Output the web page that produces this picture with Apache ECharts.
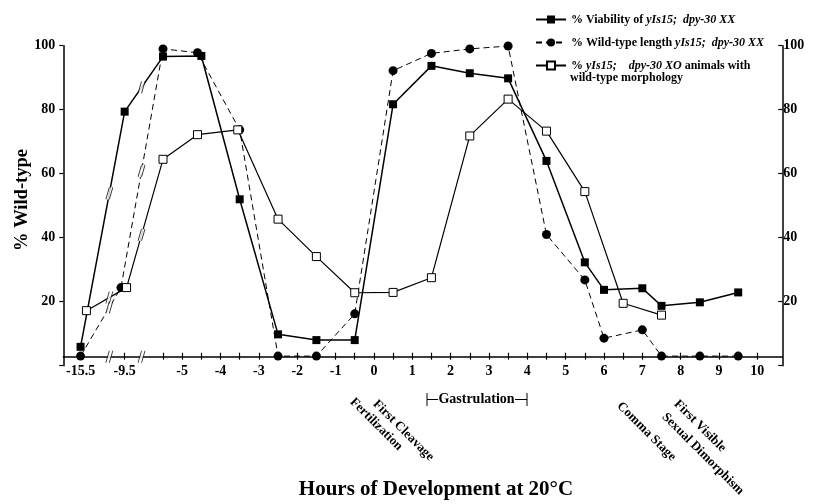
<!DOCTYPE html>
<html>
<head>
<meta charset="utf-8">
<script src="https://cdn.jsdelivr.net/npm/echarts@6/dist/echarts.min.js"></script>
<style>
    html, body { margin: 0; padding: 0; background: #fff; }
    #chart { width: 818px; height: 504px; }
</style>
</head>
<body>
<div id="chart"></div>
<script>
let hoursViability = [-15.5, -9.5, -5.5, -4.5, -3.5, -2.5, -1.5, -0.5, 0.5, 1.5, 2.5, 3.5, 4.5, 5.5, 6, 7, 7.5, 8.5, 9.5]
let viability = [5.9, 79.4, 96.6, 96.8, 52, 9.8, 8, 8, 81.7, 93.7, 91.4, 89.8, 64, 32.3, 23.7, 24.2, 18.7, 19.8, 22.9]

let hoursLength = [-15.5, -10, -5.5, -4.6, -3.5, -2.5, -1.5, -0.5, 0.5, 1.5, 2.5, 3.5, 4.5, 5.5, 6, 7, 7.5, 8.5, 9.5]
let wildLength = [3, 24.4, 99, 97.8, 73.7, 3, 3, 16.2, 92.2, 97.6, 99, 99.9, 41, 26.8, 8.6, 11.2, 3, 3, 3]

let hoursXO = [-14.7, -9.3, -5.5, -4.6, -3.55, -2.5, -1.5, -0.5, 0.5, 1.5, 2.5, 3.5, 4.5, 5.5, 6.5, 7.5]
let morphologyXO = [17.2, 24.4, 64.5, 72.2, 73.7, 45.8, 34.1, 22.8, 22.9, 27.5, 71.8, 83.3, 73.3, 54.4, 19.5, 15.8]

let labelHours = [-15.5, -9.5, -5, -4, -3, -2, -1, 0, 1, 2, 3, 4, 5, 6, 7, 8, 9, 10]
let tickHours = [-9.5, -5.5, -5, -4.5, -4, -3.5, -3, -2.5, -2, -1.5, -1, -0.5, 0, 0.5, 1, 1.5, 2, 2.5, 3, 3.5,
    4, 4.5, 5, 5.5, 6, 6.5, 7, 7.5, 8, 8.5, 9, 9.5, 10]

let seriesNames = ['% Viability of yIs15;  dpy-30 XX', '% Wild-type length yIs15;  dpy-30 XX', '% yIs15;   dpy-30 XO animals with wild-type morphology']
let legendText = {}
legendText[seriesNames[0]] = '% Viability of {i|yIs15;  dpy-30 XX}'
legendText[seriesNames[1]] = '% Wild-type length {i|yIs15;  dpy-30 XX}'
legendText[seriesNames[2]] = '% {i|yIs15;    dpy-30 XO} animals with'

const FONT = 'Liberation Serif'
const AXIS_LIFT = 9          // x axis line sits a few px above y = 0
const PX_PER_UNIT = 3.2
let axisBreaks = [-6.9, -6.06]

// the time axis is broken twice: squeeze everything before -5.5 h
function toAxis(h) {
    if (h >= -5.5) return h
    if (h >= -9.5) return -6.5 + (h + 9.5) / 4
    return -7.65 + (h + 15.5) * 1.15 / 6
}

function pairs(hours, values) {
    return hours.map(function (h, i) { return [toAxis(h), values[i]] })
}

function breakPoints(points) {
    let out = []
    for (let i = 1; i < points.length; i++) {
        let a = points[i - 1], b = points[i]
        axisBreaks.forEach(function (x) {
            if (x > a[0] && x < b[0]) {
                out.push([x, a[1] + (b[1] - a[1]) * (x - a[0]) / (b[0] - a[0])])
            }
        })
    }
    return out
}

let viaData = pairs(hoursViability, viability)
let lenData = pairs(hoursLength, wildLength)
let xoData = pairs(hoursXO, morphologyXO)

let axisLevel = AXIS_LIFT / PX_PER_UNIT
let marks = breakPoints(viaData).concat(breakPoints(lenData), breakPoints(xoData))
axisBreaks.forEach(function (x) { marks.push([x, axisLevel]) })

let tickValues = tickHours.map(toAxis)
let labelValues = labelHours.map(toAxis)

function labelFor(v) {
    for (let i = 0; i < labelHours.length; i++) {
        if (Math.abs(labelValues[i] - v) < 1e-6) return String(labelHours[i])
    }
    return ''
}

function yLabel(v) {
    return v === 0 ? '' : v
}

let boldText = {fontFamily: FONT, fontWeight: 'bold', color: '#000'}
let tickLine = {color: '#000', width: 1.2}

let option = {
    animation: false,
    backgroundColor: '#fff',
    grid: {left: 63.3, right: 35.7, top: 45.7, bottom: 138.3},
    xAxis: [{
        type: 'value', position: 'bottom', min: -8.1, max: 10.65, offset: -AXIS_LIFT,
        splitLine: {show: false},
        axisLine: {onZero: false, lineStyle: {color: '#000', width: 1.5}},
        axisTick: {inside: true, length: 4, customValues: tickValues, lineStyle: tickLine},
        axisLabel: Object.assign({fontSize: 14, margin: 8, customValues: labelValues, formatter: labelFor}, boldText)
    }, {
        type: 'value', position: 'bottom', min: -8.1, max: 10.65, offset: -AXIS_LIFT,
        splitLine: {show: false},
        axisLine: {show: false, onZero: false},
        axisTick: {length: 3, customValues: tickValues, lineStyle: tickLine},
        axisLabel: {show: false}
    }],
    yAxis: [{
        type: 'value', min: 0, max: 100, interval: 20, position: 'left',
        splitLine: {show: false},
        axisLine: {show: true, onZero: false, lineStyle: {color: '#000', width: 1.5}},
        axisTick: {length: 4, lineStyle: tickLine},
        axisLabel: Object.assign({fontSize: 14, margin: 8, formatter: yLabel}, boldText)
    }, {
        type: 'value', min: 0, max: 100, interval: 20, position: 'right',
        splitLine: {show: false},
        axisLine: {show: true, onZero: false, lineStyle: {color: '#000', width: 1.5}},
        axisTick: {inside: true, length: 4, lineStyle: tickLine},
        axisLabel: Object.assign({fontSize: 14, margin: 1, formatter: yLabel}, boldText)
    }],
    legend: {
        orient: 'vertical', left: 535, top: 13.5, padding: 0, itemGap: 11,
        itemWidth: 30, itemHeight: 10,
        data: seriesNames,
        formatter: function (name) { return legendText[name] },
        textStyle: {
            fontFamily: FONT, fontWeight: 'bold', fontSize: 12, color: '#000',
            rich: {i: {fontFamily: FONT, fontWeight: 'bold', fontStyle: 'italic', fontSize: 12, color: '#000'}}
        }
    },
    series: [{
        name: seriesNames[0], type: 'line', data: viaData,
        symbol: 'rect', symbolSize: 8,
        itemStyle: {color: '#000'},
        lineStyle: {color: '#000', width: 1.5}
    }, {
        name: seriesNames[1], type: 'line', data: lenData,
        symbol: 'circle', symbolSize: 9,
        itemStyle: {color: '#000'},
        lineStyle: {color: '#000', width: 1, type: [6, 4]}
    }, {
        name: seriesNames[2], type: 'line', data: xoData,
        symbol: 'rect', symbolSize: 8,
        itemStyle: {color: '#fff', borderColor: '#000', borderWidth: 1},
        lineStyle: {color: '#000', width: 1.2}
    }, {
        // white gap behind the break slashes
        type: 'scatter', data: marks, z: 5, silent: true,
        symbol: 'path://M0,12 L4,0 L8,0 L4,12 Z', symbolSize: [7, 12],
        itemStyle: {color: '#fff'}
    }, {
        type: 'scatter', data: marks, z: 6, silent: true,
        symbol: 'path://M0,12 L4,0 M4,12 L8,0', symbolSize: [7, 12],
        itemStyle: {color: 'none', borderColor: '#000', borderWidth: 1.1}
    }],
    graphic: [
        {type: 'text', x: 570, y: 77.5,
            style: {text: 'wild-type morphology', font: 'bold 12px "Liberation Serif"', fill: '#000', verticalAlign: 'middle'}},
        {type: 'text', x: 22, y: 200, rotation: Math.PI / 2,
            style: {text: '% Wild-type', font: 'bold 18.5px "Liberation Serif"', fill: '#000', align: 'center', verticalAlign: 'middle'}},
        {type: 'text', x: 436, y: 490,
            style: {text: 'Hours of Development at 20°C', font: 'bold 21px "Liberation Serif"', fill: '#000', align: 'center', verticalAlign: 'middle'}},
        {type: 'text', x: 352, y: 400, rotation: -Math.PI / 4,
            style: {text: 'Fertilization', font: 'bold 13px "Liberation Serif"', fill: '#000', verticalAlign: 'middle'}},
        {type: 'text', x: 375, y: 402, rotation: -Math.PI / 4,
            style: {text: 'First Cleavage', font: 'bold 13px "Liberation Serif"', fill: '#000', verticalAlign: 'middle'}},
        {type: 'text', x: 619, y: 404, rotation: -Math.PI / 4,
            style: {text: 'Comma Stage', font: 'bold 13px "Liberation Serif"', fill: '#000', verticalAlign: 'middle'}},
        {type: 'text', x: 676, y: 402, rotation: -Math.PI / 4,
            style: {text: 'First Visible', font: 'bold 13px "Liberation Serif"', fill: '#000', verticalAlign: 'middle'}},
        {type: 'text', x: 664, y: 415, rotation: -Math.PI / 4,
            style: {text: 'Sexual Dimorphism', font: 'bold 13px "Liberation Serif"', fill: '#000', verticalAlign: 'middle'}},
        {type: 'line', shape: {x1: 427, y1: 393, x2: 427, y2: 406}, style: {stroke: '#000', lineWidth: 1}},
        {type: 'line', shape: {x1: 427, y1: 399.5, x2: 438, y2: 399.5}, style: {stroke: '#000', lineWidth: 1}},
        {type: 'text', x: 476.5, y: 399,
            style: {text: 'Gastrulation', font: 'bold 14px "Liberation Serif"', fill: '#000', align: 'center', verticalAlign: 'middle'}},
        {type: 'line', shape: {x1: 515, y1: 399.5, x2: 527, y2: 399.5}, style: {stroke: '#000', lineWidth: 1}},
        {type: 'line', shape: {x1: 527, y1: 393, x2: 527, y2: 406}, style: {stroke: '#000', lineWidth: 1}}
    ]
}

let chart = echarts.init(document.getElementById('chart'))
chart.setOption(option)
</script>
</body>
</html>
